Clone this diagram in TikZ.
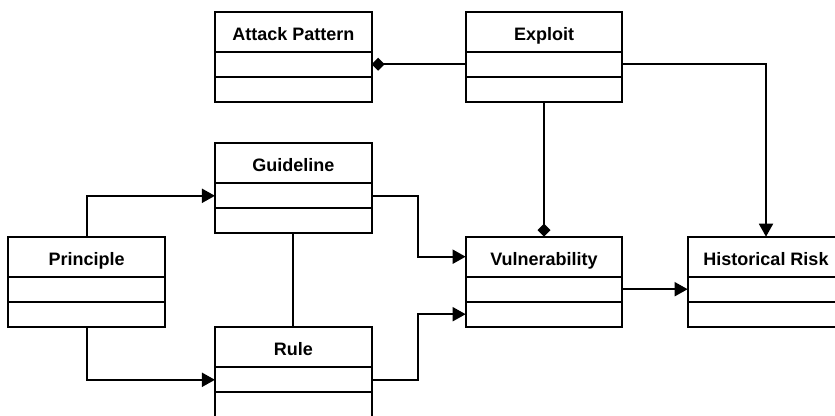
\documentclass[tikz,border=0pt]{standalone}
\usepackage{fontspec}
\setmainfont{Liberation Sans}
\usetikzlibrary{arrows.meta}

\begin{document}
\begin{tikzpicture}[x=1pt,y=-1pt,
    head/.style={draw,line width=2pt,anchor=north,minimum width=156.7pt,minimum height=40pt,
      inner sep=0pt,outer sep=0pt,text height=17pt,text depth=0pt,font=\fontsize{18}{20}\selectfont\bfseries},
    cell/.style={draw,line width=2pt,anchor=north,minimum width=156.7pt,minimum height=25pt,
      inner sep=0pt,outer sep=0pt},
    link/.style={line width=1.9pt},
    tri/.style={-{Triangle[length=13pt,width=14pt]}}]
            \useasboundingbox (0,0) rectangle (835,415);
            \clip (0,0) rectangle (835,415);
            % class boxes: title, attributes, operations
            \node[head] (ap) at (293.3,11.7) {Attack Pattern};
            \node[cell] (ap-a) at (ap.south) {};
            \node[cell] (ap-b) at (ap-a.south) {};
            \node[head] (ex) at (544,11.7) {Exploit};
            \node[cell] (ex-a) at (ex.south) {};
            \node[cell] (ex-b) at (ex-a.south) {};
            \node[head] (gl) at (293.3,143.3) {Guideline};
            \node[cell] (gl-a) at (gl.south) {};
            \node[cell] (gl-b) at (gl-a.south) {};
            \node[head] (pr) at (86.7,236.7) {Principle};
            \node[cell] (pr-a) at (pr.south) {};
            \node[cell] (pr-b) at (pr-a.south) {};
            \node[head] (vu) at (544,236.7) {Vulnerability};
            \node[cell] (vu-a) at (vu.south) {};
            \node[cell] (vu-b) at (vu-a.south) {};
            \node[head] (hr) at (766,236.7) {Historical Risk};
            \node[cell] (hr-a) at (hr.south) {};
            \node[cell] (hr-b) at (hr-a.south) {};
            \node[head] (ru) at (293.3,327.3) {Rule};
            \node[cell] (ru-a) at (ru.south) {};
            \node[cell] (ru-b) at (ru-a.south) {};
            % associations
            \draw[link,{Diamond[length=13pt,width=13pt]}-] (ap-a.east) -- (ex-a.west);
            \draw[link,-{Diamond[length=13pt,width=13pt]}] (ex-b.south) -- (vu.north);
            \draw[link,tri] (ex-a.east) -| (hr.north);
            \draw[link,tri] (pr.north) |- (gl-a.west);
            \draw[link,tri] (pr-b.south) |- (ru-a.west);
            \draw[link] (gl-b.south) -- (ru.north);
            \draw[link,tri] (gl-a.east) -- ++(46.7,0) |- (vu.west);
            \draw[link,tri] (ru-a.east) -- ++(46.7,0) |- (vu-b.west);
            \draw[link,tri] (vu-a.east) -- (hr-a.west);
            \end{tikzpicture}
\end{document}
